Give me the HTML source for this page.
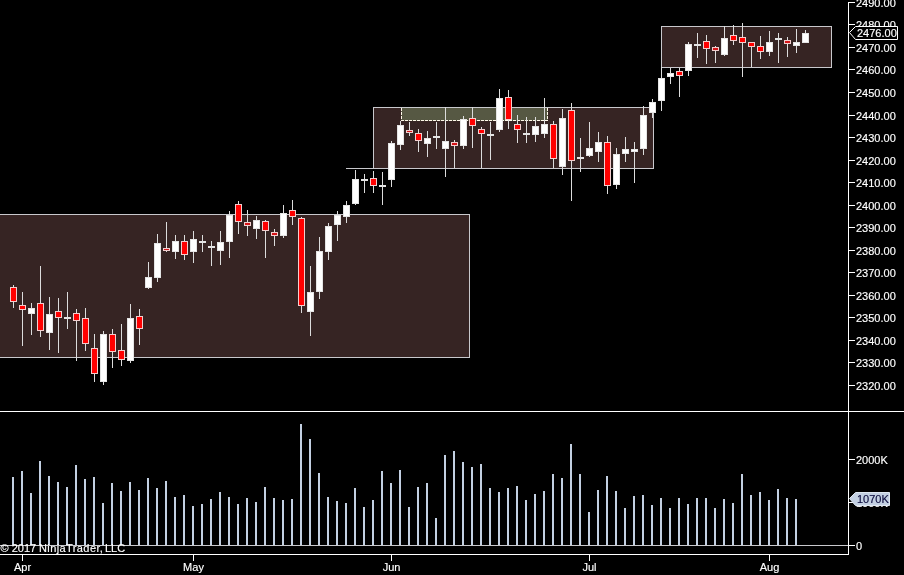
<!DOCTYPE html>
<html lang="en"><head><meta charset="utf-8"><title>NinjaTrader Chart</title>
<style>
html,body{margin:0;padding:0;background:#000;}
body{width:904px;height:575px;overflow:hidden;}
svg{display:block;}
text{font-family:"Liberation Sans",Arial,sans-serif;font-size:11px;fill:#ffffff;stroke:#ffffff;stroke-width:0.15px;}
.c{text-anchor:middle;}
</style></head><body>
<svg width="904" height="575" viewBox="0 0 904 575" shape-rendering="crispEdges">
<rect x="0" y="0" width="904" height="575" fill="#000"/>
<g id="zones">
<rect x="0" y="214" width="470" height="144" fill="#362423"/><rect x="0" y="214" width="470" height="1" fill="#c8c8cc"/><rect x="0" y="357" width="470" height="1" fill="#c8c8cc"/><rect x="469" y="214" width="1" height="144" fill="#c8c8cc"/>
<rect x="346" y="168" width="28" height="1" fill="#c8c8cc"/>
<rect x="373" y="107" width="281" height="62" fill="#362423"/><rect x="373" y="107" width="281" height="1" fill="#c8c8cc"/><rect x="373" y="168" width="281" height="1" fill="#c8c8cc"/><rect x="373" y="107" width="1" height="62" fill="#c8c8cc"/><rect x="653" y="107" width="1" height="62" fill="#c8c8cc"/>
<rect x="401" y="108" width="147" height="13" fill="#565843"/>
<path d="M401.5 108V120.5M401 120.5H548M547.5 108V121" fill="none" stroke="#fff8ea" stroke-width="1" stroke-dasharray="3 1"/>
<rect x="661" y="26" width="171" height="42" fill="#362423"/><rect x="661" y="26" width="171" height="1" fill="#c8c8cc"/><rect x="661" y="67" width="171" height="1" fill="#c8c8cc"/><rect x="661" y="26" width="1" height="42" fill="#c8c8cc"/><rect x="831" y="26" width="1" height="42" fill="#c8c8cc"/>
</g>
<g id="candles">
<rect x="13" y="285" width="1" height="23" fill="#dcdcdc"/>
<rect x="10" y="287" width="7" height="15" fill="#f2cece"/>
<rect x="11" y="288" width="5" height="13" fill="#f00"/>
<rect x="22" y="292" width="1" height="54" fill="#dcdcdc"/>
<rect x="19" y="305" width="7" height="5" fill="#f2cece"/>
<rect x="20" y="306" width="5" height="3" fill="#f00"/>
<rect x="31" y="303" width="1" height="32" fill="#dcdcdc"/>
<rect x="28" y="308" width="7" height="6" fill="#e4e4e4"/>
<rect x="29" y="309" width="5" height="4" fill="#fff"/>
<rect x="40" y="266" width="1" height="71" fill="#dcdcdc"/>
<rect x="37" y="303" width="7" height="28" fill="#f2cece"/>
<rect x="38" y="304" width="5" height="26" fill="#f00"/>
<rect x="49" y="297" width="1" height="53" fill="#dcdcdc"/>
<rect x="46" y="314" width="7" height="19" fill="#e4e4e4"/>
<rect x="47" y="315" width="5" height="17" fill="#fff"/>
<rect x="58" y="298" width="1" height="55" fill="#dcdcdc"/>
<rect x="55" y="311" width="7" height="7" fill="#f2cece"/>
<rect x="56" y="312" width="5" height="5" fill="#f00"/>
<rect x="67" y="292" width="1" height="37" fill="#dcdcdc"/>
<rect x="64" y="317" width="7" height="2" fill="#e4e4e4"/>
<rect x="76" y="309" width="1" height="52" fill="#dcdcdc"/>
<rect x="73" y="313" width="7" height="8" fill="#f2cece"/>
<rect x="74" y="314" width="5" height="6" fill="#f00"/>
<rect x="85" y="308" width="1" height="43" fill="#dcdcdc"/>
<rect x="82" y="318" width="7" height="26" fill="#f2cece"/>
<rect x="83" y="319" width="5" height="24" fill="#f00"/>
<rect x="94" y="334" width="1" height="48" fill="#dcdcdc"/>
<rect x="91" y="348" width="7" height="26" fill="#f2cece"/>
<rect x="92" y="349" width="5" height="24" fill="#f00"/>
<rect x="103" y="331" width="1" height="54" fill="#dcdcdc"/>
<rect x="100" y="334" width="7" height="48" fill="#e4e4e4"/>
<rect x="101" y="335" width="5" height="46" fill="#fff"/>
<rect x="112" y="329" width="1" height="39" fill="#dcdcdc"/>
<rect x="109" y="334" width="7" height="18" fill="#f2cece"/>
<rect x="110" y="335" width="5" height="16" fill="#f00"/>
<rect x="121" y="324" width="1" height="42" fill="#dcdcdc"/>
<rect x="118" y="350" width="7" height="10" fill="#f2cece"/>
<rect x="119" y="351" width="5" height="8" fill="#f00"/>
<rect x="130" y="304" width="1" height="59" fill="#dcdcdc"/>
<rect x="127" y="318" width="7" height="43" fill="#e4e4e4"/>
<rect x="128" y="319" width="5" height="41" fill="#fff"/>
<rect x="139" y="309" width="1" height="36" fill="#dcdcdc"/>
<rect x="136" y="316" width="7" height="13" fill="#f2cece"/>
<rect x="137" y="317" width="5" height="11" fill="#f00"/>
<rect x="148" y="262" width="1" height="27" fill="#dcdcdc"/>
<rect x="145" y="277" width="7" height="11" fill="#e4e4e4"/>
<rect x="146" y="278" width="5" height="9" fill="#fff"/>
<rect x="157" y="234" width="1" height="48" fill="#dcdcdc"/>
<rect x="154" y="243" width="7" height="35" fill="#e4e4e4"/>
<rect x="155" y="244" width="5" height="33" fill="#fff"/>
<rect x="166" y="222" width="1" height="30" fill="#dcdcdc"/>
<rect x="163" y="248" width="7" height="3" fill="#f2cece"/>
<rect x="164" y="249" width="5" height="1" fill="#d41418"/>
<rect x="175" y="235" width="1" height="24" fill="#dcdcdc"/>
<rect x="172" y="241" width="7" height="11" fill="#e4e4e4"/>
<rect x="173" y="242" width="5" height="9" fill="#fff"/>
<rect x="184" y="235" width="1" height="25" fill="#dcdcdc"/>
<rect x="181" y="241" width="7" height="14" fill="#f2cece"/>
<rect x="182" y="242" width="5" height="12" fill="#f00"/>
<rect x="193" y="231" width="1" height="32" fill="#dcdcdc"/>
<rect x="190" y="239" width="7" height="13" fill="#e4e4e4"/>
<rect x="191" y="240" width="5" height="11" fill="#fff"/>
<rect x="202" y="235" width="1" height="17" fill="#dcdcdc"/>
<rect x="199" y="241" width="7" height="2" fill="#e4e4e4"/>
<rect x="211" y="241" width="1" height="25" fill="#dcdcdc"/>
<rect x="208" y="246" width="7" height="2" fill="#e4e4e4"/>
<rect x="220" y="231" width="1" height="34" fill="#dcdcdc"/>
<rect x="217" y="242" width="7" height="9" fill="#e4e4e4"/>
<rect x="218" y="243" width="5" height="7" fill="#fff"/>
<rect x="229" y="211" width="1" height="47" fill="#dcdcdc"/>
<rect x="226" y="215" width="7" height="27" fill="#e4e4e4"/>
<rect x="227" y="216" width="5" height="25" fill="#fff"/>
<rect x="238" y="201" width="1" height="33" fill="#dcdcdc"/>
<rect x="235" y="204" width="7" height="17.5" fill="#f2cece"/>
<rect x="236" y="205" width="5" height="15.5" fill="#f00"/>
<rect x="247" y="210" width="1" height="26" fill="#dcdcdc"/>
<rect x="244" y="222" width="7" height="4" fill="#f2cece"/>
<rect x="245" y="223" width="5" height="2" fill="#d41418"/>
<rect x="256" y="216" width="1" height="23" fill="#dcdcdc"/>
<rect x="253" y="220" width="7" height="9" fill="#e4e4e4"/>
<rect x="254" y="221" width="5" height="7" fill="#fff"/>
<rect x="265" y="220" width="1" height="38" fill="#dcdcdc"/>
<rect x="262" y="221" width="7" height="10" fill="#f2cece"/>
<rect x="263" y="222" width="5" height="8" fill="#f00"/>
<rect x="274" y="229" width="1" height="17" fill="#dcdcdc"/>
<rect x="271" y="232" width="7" height="4" fill="#f2cece"/>
<rect x="272" y="233" width="5" height="2" fill="#d41418"/>
<rect x="283" y="205" width="1" height="33" fill="#dcdcdc"/>
<rect x="280" y="213" width="7" height="23" fill="#e4e4e4"/>
<rect x="281" y="214" width="5" height="21" fill="#fff"/>
<rect x="292" y="200" width="1" height="25" fill="#dcdcdc"/>
<rect x="289" y="210" width="7" height="7" fill="#f2cece"/>
<rect x="290" y="211" width="5" height="5" fill="#f00"/>
<rect x="301" y="217" width="1" height="96" fill="#dcdcdc"/>
<rect x="298" y="218" width="7" height="88" fill="#f2cece"/>
<rect x="299" y="219" width="5" height="86" fill="#f00"/>
<rect x="310" y="266" width="1" height="70" fill="#dcdcdc"/>
<rect x="307" y="292" width="7" height="20" fill="#e4e4e4"/>
<rect x="308" y="293" width="5" height="18" fill="#fff"/>
<rect x="319" y="237" width="1" height="62" fill="#dcdcdc"/>
<rect x="316" y="251" width="7" height="41" fill="#e4e4e4"/>
<rect x="317" y="252" width="5" height="39" fill="#fff"/>
<rect x="328" y="223" width="1" height="37" fill="#dcdcdc"/>
<rect x="325" y="226" width="7" height="26" fill="#e4e4e4"/>
<rect x="326" y="227" width="5" height="24" fill="#fff"/>
<rect x="337" y="211" width="1" height="30" fill="#dcdcdc"/>
<rect x="334" y="215" width="7" height="10" fill="#e4e4e4"/>
<rect x="335" y="216" width="5" height="8" fill="#fff"/>
<rect x="346" y="201" width="1" height="22" fill="#dcdcdc"/>
<rect x="343" y="205" width="7" height="12" fill="#e4e4e4"/>
<rect x="344" y="206" width="5" height="10" fill="#fff"/>
<rect x="355" y="170" width="1" height="35" fill="#dcdcdc"/>
<rect x="352" y="179" width="7" height="25" fill="#e4e4e4"/>
<rect x="353" y="180" width="5" height="23" fill="#fff"/>
<rect x="364" y="174" width="1" height="19" fill="#dcdcdc"/>
<rect x="361" y="179" width="7" height="2" fill="#e4e4e4"/>
<rect x="373" y="171" width="1" height="22" fill="#dcdcdc"/>
<rect x="370" y="178" width="7" height="8" fill="#f2cece"/>
<rect x="371" y="179" width="5" height="6" fill="#f00"/>
<rect x="382" y="172" width="1" height="33" fill="#dcdcdc"/>
<rect x="379" y="185" width="7" height="2" fill="#e4e4e4"/>
<rect x="391" y="141" width="1" height="46" fill="#dcdcdc"/>
<rect x="388" y="143" width="7" height="37" fill="#e4e4e4"/>
<rect x="389" y="144" width="5" height="35" fill="#fff"/>
<rect x="400" y="121" width="1" height="29" fill="#dcdcdc"/>
<rect x="397" y="125" width="7" height="20" fill="#e4e4e4"/>
<rect x="398" y="126" width="5" height="18" fill="#fff"/>
<rect x="409" y="122" width="1" height="14" fill="#dcdcdc"/>
<rect x="406" y="130" width="7" height="3" fill="#f2cece"/>
<rect x="407" y="131" width="5" height="1" fill="#d41418"/>
<rect x="418" y="129" width="1" height="23" fill="#dcdcdc"/>
<rect x="415" y="133" width="7" height="8" fill="#f2cece"/>
<rect x="416" y="134" width="5" height="6" fill="#f00"/>
<rect x="427" y="131" width="1" height="26" fill="#dcdcdc"/>
<rect x="424" y="138" width="7" height="6" fill="#e4e4e4"/>
<rect x="425" y="139" width="5" height="4" fill="#fff"/>
<rect x="436" y="122" width="1" height="27" fill="#dcdcdc"/>
<rect x="433" y="135.5" width="7" height="2" fill="#e4e4e4"/>
<rect x="445" y="107" width="1" height="70" fill="#dcdcdc"/>
<rect x="442" y="141" width="7" height="8" fill="#e4e4e4"/>
<rect x="443" y="142" width="5" height="6" fill="#fff"/>
<rect x="454" y="140" width="1" height="28" fill="#dcdcdc"/>
<rect x="451" y="142" width="7" height="4" fill="#f2cece"/>
<rect x="452" y="143" width="5" height="2" fill="#d41418"/>
<rect x="463" y="116" width="1" height="33" fill="#dcdcdc"/>
<rect x="460" y="119" width="7" height="27" fill="#e4e4e4"/>
<rect x="461" y="120" width="5" height="25" fill="#fff"/>
<rect x="472" y="107" width="1" height="41" fill="#dcdcdc"/>
<rect x="469" y="118" width="7" height="8" fill="#f2cece"/>
<rect x="470" y="119" width="5" height="6" fill="#f00"/>
<rect x="481" y="127" width="1" height="41" fill="#dcdcdc"/>
<rect x="478" y="129" width="7" height="5" fill="#f2cece"/>
<rect x="479" y="130" width="5" height="3" fill="#f00"/>
<rect x="490" y="122" width="1" height="38" fill="#dcdcdc"/>
<rect x="487" y="134" width="7" height="2" fill="#e4e4e4"/>
<rect x="499" y="89" width="1" height="43" fill="#dcdcdc"/>
<rect x="496" y="98" width="7" height="32" fill="#e4e4e4"/>
<rect x="497" y="99" width="5" height="30" fill="#fff"/>
<rect x="508" y="90" width="1" height="39" fill="#dcdcdc"/>
<rect x="505" y="97" width="7" height="23" fill="#f2cece"/>
<rect x="506" y="98" width="5" height="21" fill="#f00"/>
<rect x="517" y="115" width="1" height="28" fill="#dcdcdc"/>
<rect x="514" y="124" width="7" height="6" fill="#f2cece"/>
<rect x="515" y="125" width="5" height="4" fill="#f00"/>
<rect x="526" y="117" width="1" height="26" fill="#dcdcdc"/>
<rect x="523" y="132.5" width="7" height="2" fill="#e4e4e4"/>
<rect x="535" y="117" width="1" height="25" fill="#dcdcdc"/>
<rect x="532" y="126" width="7" height="9" fill="#e4e4e4"/>
<rect x="533" y="127" width="5" height="7" fill="#fff"/>
<rect x="544" y="98" width="1" height="40" fill="#dcdcdc"/>
<rect x="541" y="124" width="7" height="10" fill="#e4e4e4"/>
<rect x="542" y="125" width="5" height="8" fill="#fff"/>
<rect x="553" y="121" width="1" height="47" fill="#dcdcdc"/>
<rect x="550" y="124" width="7" height="35" fill="#f2cece"/>
<rect x="551" y="125" width="5" height="33" fill="#f00"/>
<rect x="562" y="109" width="1" height="66" fill="#dcdcdc"/>
<rect x="559" y="118" width="7" height="49" fill="#e4e4e4"/>
<rect x="560" y="119" width="5" height="47" fill="#fff"/>
<rect x="571" y="103" width="1" height="98" fill="#dcdcdc"/>
<rect x="568" y="110" width="7" height="51" fill="#f2cece"/>
<rect x="569" y="111" width="5" height="49" fill="#f00"/>
<rect x="580" y="138" width="1" height="34" fill="#dcdcdc"/>
<rect x="577" y="157" width="7" height="2" fill="#e4e4e4"/>
<rect x="589" y="122" width="1" height="35" fill="#dcdcdc"/>
<rect x="586" y="148" width="7" height="8" fill="#e4e4e4"/>
<rect x="587" y="149" width="5" height="6" fill="#fff"/>
<rect x="598" y="132" width="1" height="30" fill="#dcdcdc"/>
<rect x="595" y="142" width="7" height="10" fill="#e4e4e4"/>
<rect x="596" y="143" width="5" height="8" fill="#fff"/>
<rect x="607" y="136" width="1" height="58" fill="#dcdcdc"/>
<rect x="604" y="142" width="7" height="44" fill="#f2cece"/>
<rect x="605" y="143" width="5" height="42" fill="#f00"/>
<rect x="616" y="148" width="1" height="41" fill="#dcdcdc"/>
<rect x="613" y="154" width="7" height="31" fill="#e4e4e4"/>
<rect x="614" y="155" width="5" height="29" fill="#fff"/>
<rect x="625" y="137" width="1" height="25" fill="#dcdcdc"/>
<rect x="622" y="149" width="7" height="5" fill="#e4e4e4"/>
<rect x="623" y="150" width="5" height="3" fill="#fff"/>
<rect x="634" y="142" width="1" height="41" fill="#dcdcdc"/>
<rect x="631" y="149" width="7" height="3" fill="#e4e4e4"/>
<rect x="632" y="150" width="5" height="1" fill="#fff"/>
<rect x="643" y="106" width="1" height="49" fill="#dcdcdc"/>
<rect x="640" y="115" width="7" height="34" fill="#e4e4e4"/>
<rect x="641" y="116" width="5" height="32" fill="#fff"/>
<rect x="652" y="99" width="1" height="19" fill="#dcdcdc"/>
<rect x="649" y="102" width="7" height="11" fill="#e4e4e4"/>
<rect x="650" y="103" width="5" height="9" fill="#fff"/>
<rect x="661" y="67" width="1" height="44" fill="#dcdcdc"/>
<rect x="658" y="78" width="7" height="23" fill="#e4e4e4"/>
<rect x="659" y="79" width="5" height="21" fill="#fff"/>
<rect x="670" y="68" width="1" height="16" fill="#dcdcdc"/>
<rect x="667" y="73" width="7" height="4" fill="#e4e4e4"/>
<rect x="668" y="74" width="5" height="2" fill="#fff"/>
<rect x="679" y="68" width="1" height="29" fill="#dcdcdc"/>
<rect x="676" y="71" width="7" height="5" fill="#f2cece"/>
<rect x="677" y="72" width="5" height="3" fill="#f00"/>
<rect x="688" y="42" width="1" height="34" fill="#dcdcdc"/>
<rect x="685" y="44" width="7" height="27" fill="#e4e4e4"/>
<rect x="686" y="45" width="5" height="25" fill="#fff"/>
<rect x="697" y="33" width="1" height="25" fill="#dcdcdc"/>
<rect x="694" y="44" width="7" height="2" fill="#e4e4e4"/>
<rect x="706" y="35" width="1" height="29" fill="#dcdcdc"/>
<rect x="703" y="41" width="7" height="8" fill="#f2cece"/>
<rect x="704" y="42" width="5" height="6" fill="#f00"/>
<rect x="715" y="46" width="1" height="17" fill="#dcdcdc"/>
<rect x="712" y="47" width="7" height="4" fill="#f2cece"/>
<rect x="713" y="48" width="5" height="2" fill="#d41418"/>
<rect x="724" y="26" width="1" height="30" fill="#dcdcdc"/>
<rect x="721" y="38" width="7" height="17" fill="#e4e4e4"/>
<rect x="722" y="39" width="5" height="15" fill="#fff"/>
<rect x="733" y="25" width="1" height="20" fill="#dcdcdc"/>
<rect x="730" y="35" width="7" height="6" fill="#f2cece"/>
<rect x="731" y="36" width="5" height="4" fill="#f00"/>
<rect x="742" y="23" width="1" height="54" fill="#dcdcdc"/>
<rect x="739" y="37" width="7" height="6" fill="#f2cece"/>
<rect x="740" y="38" width="5" height="4" fill="#f00"/>
<rect x="751" y="42" width="1" height="25" fill="#dcdcdc"/>
<rect x="748" y="42" width="7" height="5" fill="#f2cece"/>
<rect x="749" y="43" width="5" height="3" fill="#f00"/>
<rect x="760" y="36" width="1" height="23" fill="#dcdcdc"/>
<rect x="757" y="46" width="7" height="6" fill="#f2cece"/>
<rect x="758" y="47" width="5" height="4" fill="#f00"/>
<rect x="769" y="31" width="1" height="25" fill="#dcdcdc"/>
<rect x="766" y="42" width="7" height="10" fill="#e4e4e4"/>
<rect x="767" y="43" width="5" height="8" fill="#fff"/>
<rect x="778" y="33" width="1" height="30" fill="#dcdcdc"/>
<rect x="775" y="38" width="7" height="2" fill="#e4e4e4"/>
<rect x="787" y="37" width="1" height="20" fill="#dcdcdc"/>
<rect x="784" y="40" width="7" height="4" fill="#f2cece"/>
<rect x="785" y="41" width="5" height="2" fill="#d41418"/>
<rect x="796" y="29" width="1" height="24" fill="#dcdcdc"/>
<rect x="793" y="42" width="7" height="4" fill="#e4e4e4"/>
<rect x="794" y="43" width="5" height="2" fill="#fff"/>
<rect x="805" y="30" width="1" height="13" fill="#dcdcdc"/>
<rect x="802" y="33" width="7" height="10" fill="#e4e4e4"/>
<rect x="803" y="34" width="5" height="8" fill="#fff"/>
</g>
<g id="axes">
<rect x="0" y="411" width="904" height="1" fill="#ffffff"/>
<rect x="848" y="2" width="1" height="553" fill="#ffffff"/>
<rect x="0" y="554" width="849" height="1" fill="#ffffff"/>
<rect x="0" y="545" width="855" height="1" fill="#c8c8cc"/>
</g>
<g id="volume">
<rect x="12" y="477" width="2" height="68" fill="#c3d0e2"/>
<rect x="21" y="471" width="2" height="74" fill="#c3d0e2"/>
<rect x="30" y="493" width="2" height="52" fill="#c3d0e2"/>
<rect x="39" y="461" width="2" height="84" fill="#c3d0e2"/>
<rect x="48" y="476" width="2" height="69" fill="#c3d0e2"/>
<rect x="57" y="482" width="2" height="63" fill="#c3d0e2"/>
<rect x="66" y="487" width="2" height="58" fill="#c3d0e2"/>
<rect x="75" y="465" width="2" height="80" fill="#c3d0e2"/>
<rect x="84" y="479" width="2" height="66" fill="#c3d0e2"/>
<rect x="93" y="477" width="2" height="68" fill="#c3d0e2"/>
<rect x="102" y="503" width="2" height="42" fill="#c3d0e2"/>
<rect x="111" y="483" width="2" height="62" fill="#c3d0e2"/>
<rect x="120" y="491" width="2" height="54" fill="#c3d0e2"/>
<rect x="129" y="482" width="2" height="63" fill="#c3d0e2"/>
<rect x="138" y="490" width="2" height="55" fill="#c3d0e2"/>
<rect x="147" y="478" width="2" height="67" fill="#c3d0e2"/>
<rect x="156" y="488" width="2" height="57" fill="#c3d0e2"/>
<rect x="165" y="481" width="2" height="64" fill="#c3d0e2"/>
<rect x="174" y="497" width="2" height="48" fill="#c3d0e2"/>
<rect x="183" y="495" width="2" height="50" fill="#c3d0e2"/>
<rect x="192" y="506" width="2" height="39" fill="#c3d0e2"/>
<rect x="201" y="504" width="2" height="41" fill="#c3d0e2"/>
<rect x="210" y="499" width="2" height="46" fill="#c3d0e2"/>
<rect x="219" y="492" width="2" height="53" fill="#c3d0e2"/>
<rect x="228" y="497" width="2" height="48" fill="#c3d0e2"/>
<rect x="237" y="504" width="2" height="41" fill="#c3d0e2"/>
<rect x="246" y="498" width="2" height="47" fill="#c3d0e2"/>
<rect x="255" y="502" width="2" height="43" fill="#c3d0e2"/>
<rect x="264" y="487" width="2" height="58" fill="#c3d0e2"/>
<rect x="273" y="498" width="2" height="47" fill="#c3d0e2"/>
<rect x="282" y="500" width="2" height="45" fill="#c3d0e2"/>
<rect x="291" y="499" width="2" height="46" fill="#c3d0e2"/>
<rect x="300" y="424" width="2" height="121" fill="#c3d0e2"/>
<rect x="309" y="439" width="2" height="106" fill="#c3d0e2"/>
<rect x="318" y="473" width="2" height="72" fill="#c3d0e2"/>
<rect x="327" y="497" width="2" height="48" fill="#c3d0e2"/>
<rect x="336" y="501" width="2" height="44" fill="#c3d0e2"/>
<rect x="345" y="503" width="2" height="42" fill="#c3d0e2"/>
<rect x="354" y="488" width="2" height="57" fill="#c3d0e2"/>
<rect x="363" y="507" width="2" height="38" fill="#c3d0e2"/>
<rect x="372" y="500" width="2" height="45" fill="#c3d0e2"/>
<rect x="381" y="471" width="2" height="74" fill="#c3d0e2"/>
<rect x="390" y="483" width="2" height="62" fill="#c3d0e2"/>
<rect x="399" y="470" width="2" height="75" fill="#c3d0e2"/>
<rect x="408" y="507" width="2" height="38" fill="#c3d0e2"/>
<rect x="417" y="487" width="2" height="58" fill="#c3d0e2"/>
<rect x="426" y="483" width="2" height="62" fill="#c3d0e2"/>
<rect x="435" y="518" width="2" height="27" fill="#c3d0e2"/>
<rect x="444" y="455" width="2" height="90" fill="#c3d0e2"/>
<rect x="453" y="451" width="2" height="94" fill="#c3d0e2"/>
<rect x="462" y="462" width="2" height="83" fill="#c3d0e2"/>
<rect x="471" y="467" width="2" height="78" fill="#c3d0e2"/>
<rect x="480" y="464" width="2" height="81" fill="#c3d0e2"/>
<rect x="489" y="488" width="2" height="57" fill="#c3d0e2"/>
<rect x="498" y="492" width="2" height="53" fill="#c3d0e2"/>
<rect x="507" y="488" width="2" height="57" fill="#c3d0e2"/>
<rect x="516" y="486" width="2" height="59" fill="#c3d0e2"/>
<rect x="525" y="500" width="2" height="45" fill="#c3d0e2"/>
<rect x="534" y="494" width="2" height="51" fill="#c3d0e2"/>
<rect x="543" y="491" width="2" height="54" fill="#c3d0e2"/>
<rect x="552" y="474" width="2" height="71" fill="#c3d0e2"/>
<rect x="561" y="478" width="2" height="67" fill="#c3d0e2"/>
<rect x="570" y="444" width="2" height="101" fill="#c3d0e2"/>
<rect x="579" y="474" width="2" height="71" fill="#c3d0e2"/>
<rect x="588" y="512" width="2" height="33" fill="#c3d0e2"/>
<rect x="597" y="490" width="2" height="55" fill="#c3d0e2"/>
<rect x="606" y="476" width="2" height="69" fill="#c3d0e2"/>
<rect x="615" y="491" width="2" height="54" fill="#c3d0e2"/>
<rect x="624" y="508" width="2" height="37" fill="#c3d0e2"/>
<rect x="633" y="496" width="2" height="49" fill="#c3d0e2"/>
<rect x="642" y="495" width="2" height="50" fill="#c3d0e2"/>
<rect x="651" y="505" width="2" height="40" fill="#c3d0e2"/>
<rect x="660" y="498" width="2" height="47" fill="#c3d0e2"/>
<rect x="669" y="508" width="2" height="37" fill="#c3d0e2"/>
<rect x="678" y="498" width="2" height="47" fill="#c3d0e2"/>
<rect x="687" y="504" width="2" height="41" fill="#c3d0e2"/>
<rect x="696" y="498" width="2" height="47" fill="#c3d0e2"/>
<rect x="705" y="498" width="2" height="47" fill="#c3d0e2"/>
<rect x="714" y="508" width="2" height="37" fill="#c3d0e2"/>
<rect x="723" y="499" width="2" height="46" fill="#c3d0e2"/>
<rect x="732" y="503" width="2" height="42" fill="#c3d0e2"/>
<rect x="741" y="474" width="2" height="71" fill="#c3d0e2"/>
<rect x="750" y="495" width="2" height="50" fill="#c3d0e2"/>
<rect x="759" y="492" width="2" height="53" fill="#c3d0e2"/>
<rect x="768" y="500" width="2" height="45" fill="#c3d0e2"/>
<rect x="777" y="489" width="2" height="56" fill="#c3d0e2"/>
<rect x="786" y="498" width="2" height="47" fill="#c3d0e2"/>
<rect x="795" y="499" width="2" height="46" fill="#c3d0e2"/>
</g>
<g id="price-axis">
<rect x="848" y="2" width="7" height="1" fill="#ffffff"/>
<text x="856" y="7">2490.00</text>
<rect x="848" y="24" width="7" height="1" fill="#ffffff"/>
<text x="856" y="29">2480.00</text>
<rect x="848" y="47" width="7" height="1" fill="#ffffff"/>
<text x="856" y="52">2470.00</text>
<rect x="848" y="69" width="7" height="1" fill="#ffffff"/>
<text x="856" y="74">2460.00</text>
<rect x="848" y="92" width="7" height="1" fill="#ffffff"/>
<text x="856" y="97">2450.00</text>
<rect x="848" y="115" width="7" height="1" fill="#ffffff"/>
<text x="856" y="120">2440.00</text>
<rect x="848" y="137" width="7" height="1" fill="#ffffff"/>
<text x="856" y="142">2430.00</text>
<rect x="848" y="160" width="7" height="1" fill="#ffffff"/>
<text x="856" y="165">2420.00</text>
<rect x="848" y="182" width="7" height="1" fill="#ffffff"/>
<text x="856" y="187">2410.00</text>
<rect x="848" y="205" width="7" height="1" fill="#ffffff"/>
<text x="856" y="210">2400.00</text>
<rect x="848" y="227" width="7" height="1" fill="#ffffff"/>
<text x="856" y="232">2390.00</text>
<rect x="848" y="250" width="7" height="1" fill="#ffffff"/>
<text x="856" y="255">2380.00</text>
<rect x="848" y="272" width="7" height="1" fill="#ffffff"/>
<text x="856" y="277">2370.00</text>
<rect x="848" y="295" width="7" height="1" fill="#ffffff"/>
<text x="856" y="300">2360.00</text>
<rect x="848" y="317" width="7" height="1" fill="#ffffff"/>
<text x="856" y="322">2350.00</text>
<rect x="848" y="340" width="7" height="1" fill="#ffffff"/>
<text x="856" y="345">2340.00</text>
<rect x="848" y="362" width="7" height="1" fill="#ffffff"/>
<text x="856" y="367">2330.00</text>
<rect x="848" y="385" width="7" height="1" fill="#ffffff"/>
<text x="856" y="390">2320.00</text>
</g>
<g id="volume-axis">
<rect x="848" y="459" width="7" height="1" fill="#ffffff"/>
<text x="856" y="464">2000K</text>
<rect x="848" y="502" width="7" height="1" fill="#ffffff"/>
<text x="856" y="507">1000K</text>
<rect x="848" y="545" width="7" height="1" fill="#ffffff"/>
<text x="856" y="550">0</text>
</g>
<g id="markers" shape-rendering="geometricPrecision">
<path d="M849.5 32.5L855.5 26.5H897.5V39.5H855.5Z" fill="#000" stroke="#fff" stroke-width="1"/>
<text x="857" y="37">2476.00</text>
<path d="M849.5 498.5L855.5 492.5H889.5V505.5H855.5Z" fill="#c3d0e2" stroke="#dfe7f1" stroke-width="1"/>
<text x="857" y="503" style="fill:#0a0a3c;stroke:#0a0a3c">1070K</text>
</g>
<g id="time-axis">
<rect x="22" y="554" width="1" height="7" fill="#ffffff"/>
<text class="c" x="22.5" y="571">Apr</text>
<rect x="193" y="554" width="1" height="7" fill="#ffffff"/>
<text class="c" x="193.5" y="571">May</text>
<rect x="391" y="554" width="1" height="7" fill="#ffffff"/>
<text class="c" x="391.5" y="571">Jun</text>
<rect x="589" y="554" width="1" height="7" fill="#ffffff"/>
<text class="c" x="589.5" y="571">Jul</text>
<rect x="769" y="554" width="1" height="7" fill="#ffffff"/>
<text class="c" x="769.5" y="571">Aug</text>
</g>
<text x="0.5" y="552"><tspan x="0.5">© 2017 </tspan><tspan x="39" style="letter-spacing:0.4px">NinjaTrader, </tspan><tspan x="105">LLC</tspan></text>
</svg>
</body></html>
